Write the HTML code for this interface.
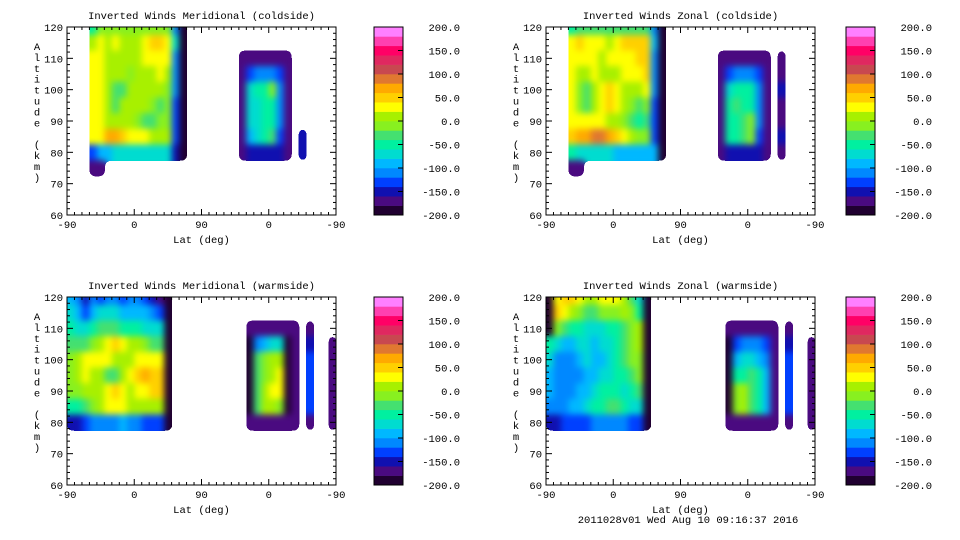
<!DOCTYPE html>
<html><head><meta charset="utf-8">
<style>
html,body{margin:0;padding:0;background:#fff;}
svg{display:block;}
text{font-family:"Liberation Mono",monospace;font-size:10.5px;fill:#000;}
</style></head>
<body>
<svg id="fig" width="960" height="540" viewBox="0 0 960 540" xmlns="http://www.w3.org/2000/svg">
<defs>
<filter id="smooth" x="-5%" y="-5%" width="110%" height="110%" color-interpolation-filters="sRGB">
<feGaussianBlur stdDeviation="3.2"/>
<feComponentTransfer><feFuncA type="discrete" tableValues="0 1"/></feComponentTransfer>
</filter>
</defs>
</svg>
<script>
// ---- data ----
const xTickLabels = ["-90","0","90","0","-90"];
const yTickLabels = [60,70,80,90,100,110,120];
const cbarLabels = ["200.0","150.0","100.0","50.0","0.0","-50.0","-100.0","-150.0","-200.0"];
const cbarValues = [200,150,100,50,0,-50,-100,-150,-200];
const levelColors = ["#200030","#4a0a80","#1010b0","#0040ff","#0088ff","#00b8ff","#00dcd0","#00f0a0","#44e070","#88f020","#a8f000","#ffff00","#ffd000","#ffaa00","#e07830","#c84850","#e02860","#ff0066","#ff40b0","#ff80ff"];
const rowAltitudes = [120,115,110,105,100,95,90,85,80,75];
// columns: 36 cells of 10 lat-units across the -90..90..-90 axis; '.' = no data; a..t = level index
const meridCold = [
"..."+"hjjjjjjjjjjea"+"......."+"......."+"."+"."+"....",
"..."+"klklkkklmmlga"+"......."+"......."+"."+"."+"....",
"..."+"llkkkkkllllea"+"......."+"bbbbbbb"+"."+"."+"....",
"..."+"llkkkjkkklkea"+"......."+"bdeeedb"+"."+"."+"....",
"..."+"llkiikkkkkjea"+"......."+"bghhjeb"+"."+"."+"....",
"..."+"llkikkkkjijda"+"......."+"bgghheb"+"."+"."+"....",
"..."+"llkkkkjiijjda"+"......."+"bgghheb"+"."+"."+"....",
"..."+"llnnmlllkkkda"+"......."+"bfghidb"+"."+"c"+"....",
"..."+"dffggggggggca"+"......."+"bcccccb"+"."+"c"+"....",
"..."+"bb..........."+"......."+"......."+"."+"."+"...."
];
const zonalCold = [
"..."+"hiiiiiiiiiiea"+"......."+"......."+"."+"."+"....",
"..."+"lmlllklmmmmfa"+"......."+"......."+"."+"."+"....",
"..."+"llllkllllmmea"+"......."+"bbbbbbb"+"."+"b"+"....",
"..."+"lkklkkklllmea"+"......."+"bdeeedb"+"."+"b"+"....",
"..."+"ljiklmlkkklea"+"......."+"bghhheb"+"."+"c"+"....",
"..."+"ljiklmlkjijda"+"......."+"bhihheb"+"."+"b"+"....",
"..."+"lllllkkjihida"+"......."+"bhhijeb"+"."+"b"+"....",
"..."+"mnnoonmlkjjda"+"......."+"bhhijdb"+"."+"c"+"....",
"..."+"hgggggffffffa"+"......."+"bcccccb"+"."+"b"+"....",
"..."+"bb..........."+"......."+"......."+"."+"."+"...."
];
const meridWarm = [
"fecedeedeedcba"+".........."+"......."+"."+"."+".."+".",
"gfdfgggffffeda"+".........."+"......."+"."+"."+".."+".",
"hgghiiihhhggga"+".........."+"bbbbbbb"+"."+"b"+".."+".",
"iiijklmlkkjiia"+".........."+"aefggab"+"."+"c"+".."+"b",
"jkllllkkkllllа".slice(0,13)+"a"+".........."+"aijkkab"+"."+"d"+".."+"b",
"jklkkiiklmnmma"+".........."+"aijklab"+"."+"d"+".."+"b",
"jjkkklmlkllmma"+".........."+"aikllab"+"."+"d"+".."+"b",
"hhijklllkkkkka"+".........."+"aikkjab"+"."+"d"+".."+"b",
"ccdeeeefeeddda"+".........."+"bbbbbbb"+"."+"b"+".."+"b",
".............."+".........."+"......."+"."+"."+".."+"."
];
const zonalWarm = [
"almmlkklllkiga"+".........."+"......."+"."+"."+".."+".",
"amlkjiijjjkjha"+".........."+"......."+"."+"."+".."+".",
"ajihhggghhijka"+".........."+"bbbbbbb"+"."+"b"+".."+".",
"hgffggfgghijka"+".........."+"adeeedb"+"."+"c"+".."+"b",
"geeefgffghijja"+".........."+"afggfeb"+"."+"d"+".."+"b",
"feeeeffgghhija"+".........."+"ahhihfb"+"."+"d"+".."+"b",
"feeeffghhhghia"+".........."+"ajkihfb"+"."+"d"+".."+"b",
"eeeffghhiihgga"+".........."+"ajkihfb"+"."+"d"+".."+"b",
"ccddddeeeeedda"+".........."+"bbbbbbb"+"."+"b"+".."+"b",
".............."+".........."+"......."+"."+"."+".."+"."
];
const panelTitles = ["Inverted Winds Meridional (coldside)","Inverted Winds Zonal (coldside)","Inverted Winds Meridional (warmside)","Inverted Winds Zonal (warmside)"];
const panelGrids = [meridCold, zonalCold, meridWarm, zonalWarm];
const panelNames = ["meridional-coldside","zonal-coldside","meridional-warmside","zonal-warmside"];

// ---- drawing ----
const NS = "http://www.w3.org/2000/svg";
const svg = document.getElementById("fig");
function mk(tag, attrs, parent){ const e=document.createElementNS(NS,tag); for(const k in attrs) e.setAttribute(k,attrs[k]); (parent||svg).appendChild(e); return e; }
const layout = [{x:67,y:27,cb:374},{x:546,y:27,cb:846},{x:67,y:297,cb:374},{x:546,y:297,cb:846}];
const PW=269, PH=188;

layout.forEach((L,pi)=>{
  const xS = u => L.x + u/360*PW;
  const yS = a => L.y + (120-a)/60*PH;
  const g = mk("g",{});
  
  
  const clipId="clip"+pi;
  const cp = mk("clipPath",{id:clipId},g);
  mk("rect",{x:L.x,y:L.y,width:PW,height:PH},cp);
  const field = mk("g",{"clip-path":"url(#"+clipId+")"},g);
  const inner = mk("g",{filter:"url(#smooth)"},field);
  
  
  const grid = panelGrids[pi];
  grid.forEach((row,ri)=>{
    const alt = rowAltitudes[ri];
    for(let c=0;c<row.length&&c<36;c++){
      const ch=row[c]; if(ch==='.') continue;
      const lv=ch.charCodeAt(0)-97; if(lv<0||lv>19) continue;
      const r = mk("rect",{x:xS(c*10).toFixed(2),y:yS(alt+2.5).toFixed(2),width:(xS(10)-xS(0)+0.6).toFixed(2),height:(yS(0)-yS(5)+0.6).toFixed(2),fill:levelColors[lv]},inner);
      
      
    }
  });
  const fr = mk("rect",{x:L.x,y:L.y,width:PW,height:PH,fill:"none",stroke:"#000","stroke-width":1},g);
  
  
  for(let u=0;u<=360;u+=10){
    const len = (u%90===0)?6:3;
    mk("line",{x1:xS(u),x2:xS(u),y1:L.y+PH,y2:L.y+PH-len,stroke:"#000"},g);
    mk("line",{x1:xS(u),x2:xS(u),y1:L.y,y2:L.y+len,stroke:"#000"},g);
  }
  xTickLabels.forEach((t,i)=>{
    const tx = mk("text",{x:xS(i*90),y:L.y+PH+13,"text-anchor":"middle"},g);
    tx.textContent=t;
    
    
  });
  for(let a=60;a<=120;a+=2){
    const len=(a%10===0)?6:3;
    mk("line",{x1:L.x,x2:L.x+len,y1:yS(a),y2:yS(a),stroke:"#000"},g);
    mk("line",{x1:L.x+PW,x2:L.x+PW-len,y1:yS(a),y2:yS(a),stroke:"#000"},g);
  }
  yTickLabels.forEach(v=>{
    const tx = mk("text",{x:L.x-4,y:yS(v)+4,"text-anchor":"end"},g);
    tx.textContent=String(v);
    
    
  });
  const tt = mk("text",{x:L.x+PW/2,y:L.y-8,"text-anchor":"middle"},g);
  tt.textContent = panelTitles[pi];
  
  
  const xt = mk("text",{x:L.x+PW/2,y:L.y+PH+28,"text-anchor":"middle"},g);
  xt.textContent = "Lat (deg)";
  
  
  const yt = mk("g",{},g);
  
  
  "Altitude (km)".split("").forEach((ch,i)=>{
    if(ch===' ') return;
    const t = mk("text",{x:L.x-30,y:L.y+23+i*10.9,"text-anchor":"middle"},yt);
    t.textContent=ch;
  });
  const cb = mk("g",{},g);
  
  
  const bandH = PH/levelColors.length;
  levelColors.forEach((col,i)=>{
    const r = mk("rect",{x:L.cb,y:(L.y+PH-(i+1)*bandH).toFixed(2),width:29,height:(bandH+0.3).toFixed(2),fill:col},cb);
    
    
  });
  mk("rect",{x:L.cb,y:L.y,width:29,height:PH,fill:"none",stroke:"#000"},cb);
  cbarValues.forEach((v,i)=>{
    const yy = L.y + (200-v)/400*PH;
    mk("line",{x1:L.cb+29,x2:L.cb+24,y1:yy,y2:yy,stroke:"#000"},cb);
    const t = mk("text",{x:L.cb+86,y:yy+4,"text-anchor":"end"},cb);
    t.textContent = cbarLabels[i];
    
    
  });
});
const foot = mk("text",{x:688,y:523,"text-anchor":"middle"});
foot.textContent = "2011028v01 Wed Aug 10 09:16:37 2016";


</script>
</body></html>
